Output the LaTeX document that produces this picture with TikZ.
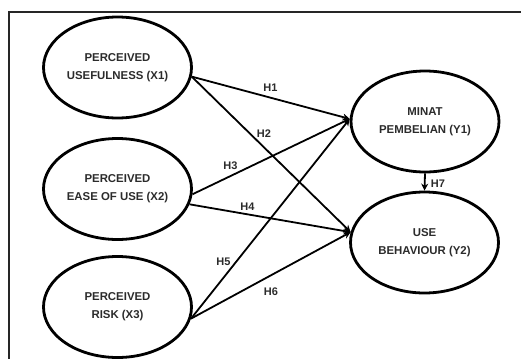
\documentclass[tikz,border=0pt]{standalone}
\usepackage{fontspec}
\setmainfont{Liberation Sans}
\usetikzlibrary{shapes.geometric,arrows.meta}
\definecolor{txt}{HTML}{2B2B2B}
\tikzset{
  var/.style={draw=black, line width=2.8pt, ellipse, minimum width=148pt, minimum height=101pt,
    align=center, font=\fontsize{11.4}{18}\selectfont\bfseries, text=txt, inner sep=-20pt},
  hyp/.style={font=\fontsize{11}{13}\selectfont\bfseries, text=txt, inner sep=0pt},
  link/.style={line width=1.8pt, -{Stealth[length=7pt,width=7pt]}},
  frameline/.style={line width=1.6pt, draw=black!85}
}
\begin{document}
\begin{tikzpicture}[x=1pt,y=-1pt]
\useasboundingbox (0,0) rectangle (521,359);
\coordinate (tl) at (9,12);
\coordinate (tr) at (521,12);
\coordinate (bl) at (9,359);
\draw[frameline] (tr) -- (tl) -- (bl);

\node[var] (X1) at (117.5,67.5) {PERCEIVED\\USEFULNESS (X1)};
\node[var] (X2) at (117.5,189) {PERCEIVED\\EASE OF USE (X2)};
\node[var] (X3) at (117.5,307) {PERCEIVED\\RISK (X3)};
\node[var] (Y1) at (425,121.5) {MINAT\\PEMBELIAN (Y1)};
\node[var] (Y2) at (424.5,242.5) {USE\\BEHAVIOUR (Y2)};

\draw[link] (X1.-7.5) -- (Y1.178);
\draw[link] (X1.-7.5) -- (Y2.172);
\draw[link] (X2.-4.5) -- (Y1.178);
\draw[link] (X2.-12.4) -- (Y2.172);
\draw[link] (X3.-9.8) -- (Y1.178);
\draw[link] (X3.-9.8) -- (Y2.172);
\draw[link] (Y1.south) -- (Y2.north);

\node[hyp] (h1) at (270.5,87.5) {H1};
\node[hyp] (h2) at (264,134) {H2};
\node[hyp] (h3) at (230.5,166) {H3};
\node[hyp] (h4) at (247.5,206.5) {H4};
\node[hyp] (h5) at (223.5,261.5) {H5};
\node[hyp] (h6) at (271,291.5) {H6};
\node[hyp] (h7) at (438,183.5) {H7};
\end{tikzpicture}
\end{document}
